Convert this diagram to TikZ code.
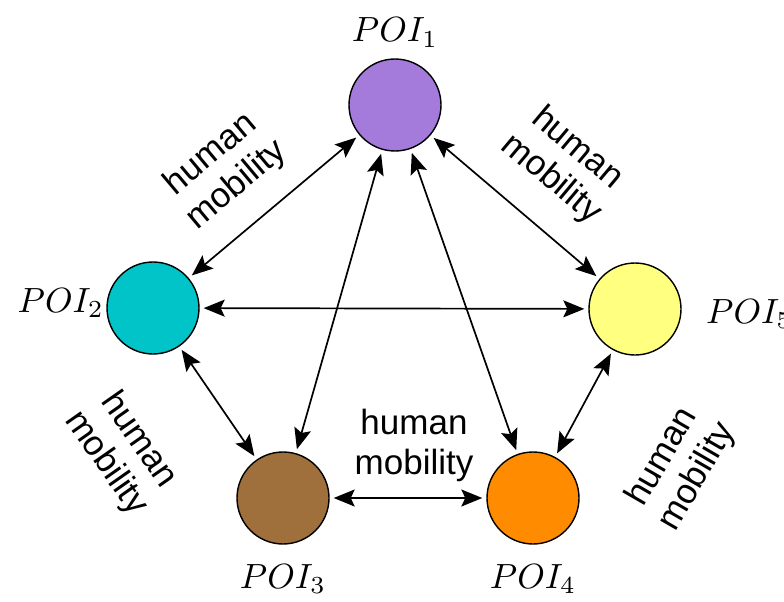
\documentclass[tikz,border=0pt]{standalone}
\usepackage{graphicx}
\usepackage{fontspec}
\newfontfamily\labelfont{Liberation Sans}
\usetikzlibrary{arrows.meta}

\definecolor{poiA}{RGB}{164,122,218}
\definecolor{poiB}{RGB}{0,196,200}
\definecolor{poiC}{RGB}{160,112,60}
\definecolor{poiD}{RGB}{255,140,0}
\definecolor{poiE}{RGB}{255,255,128}

% large math-italic POI name
\newcommand{\poiname}[1]{\scalebox{3.5}{$POI_{#1}$}}

\begin{document}
\begin{tikzpicture}[x=1pt,y=-1pt,
  poi/.style={circle,draw=black,line width=1.4pt,minimum size=92pt,inner sep=0pt},
  poilabel/.style={inner sep=0pt},
  flow/.style={line width=1.7pt,{Stealth[length=21pt,width=17pt,inset=4pt]}-{Stealth[length=21pt,width=17pt,inset=4pt]},
               shorten >=4pt,shorten <=4pt},
  mob/.style={font=\labelfont\fontsize{35}{40}\selectfont,align=center,inner sep=0pt}]
  \useasboundingbox (0,0) rectangle (784,602);

  % POI circles
  \node[poi,fill=poiA] (p1) at (395,105) {};
  \node[poi,fill=poiB] (p2) at (153,308) {};
  \node[poi,fill=poiC] (p3) at (283,498) {};
  \node[poi,fill=poiD] (p4) at (533,498) {};
  \node[poi,fill=poiE] (p5) at (635,309) {};

  % POI names
  \node[poilabel,anchor=base] (n1) at (395,42) {\poiname{1}};
  \node[poilabel,anchor=base east] (n2) at (104,312) {\poiname{2}};
  \node[poilabel,anchor=base] (n3) at (283,588) {\poiname{3}};
  \node[poilabel,anchor=base] (n4) at (533,588) {\poiname{4}};
  \node[poilabel,anchor=base west] (n5) at (706,323) {\poiname{5}};

  % two-way flows
  \draw[flow] (p1) -- (p2);
  \draw[flow] (p1) -- (p5);
  \draw[flow] (p1) -- (p3);
  \draw[flow] (p1) -- (p4);
  \draw[flow] (p2) -- (p5);
  \draw[flow] (p2) -- (p3);
  \draw[flow] (p3) -- (p4);
  \draw[flow] (p4) -- (p5);

  % flow labels
  \node[mob,rotate=40] (m12) at (224,170) {human\\mobility};
  \node[mob,rotate=-40] (m15) at (564,164) {human\\mobility};
  \node[mob,rotate=-55] (m23) at (122,452) {human\\mobility};
  \node[mob,rotate=60] (m45) at (680,467) {human\\mobility};
  \node[mob] (m34) at (414,445) {human\\mobility};
\end{tikzpicture}
\end{document}
